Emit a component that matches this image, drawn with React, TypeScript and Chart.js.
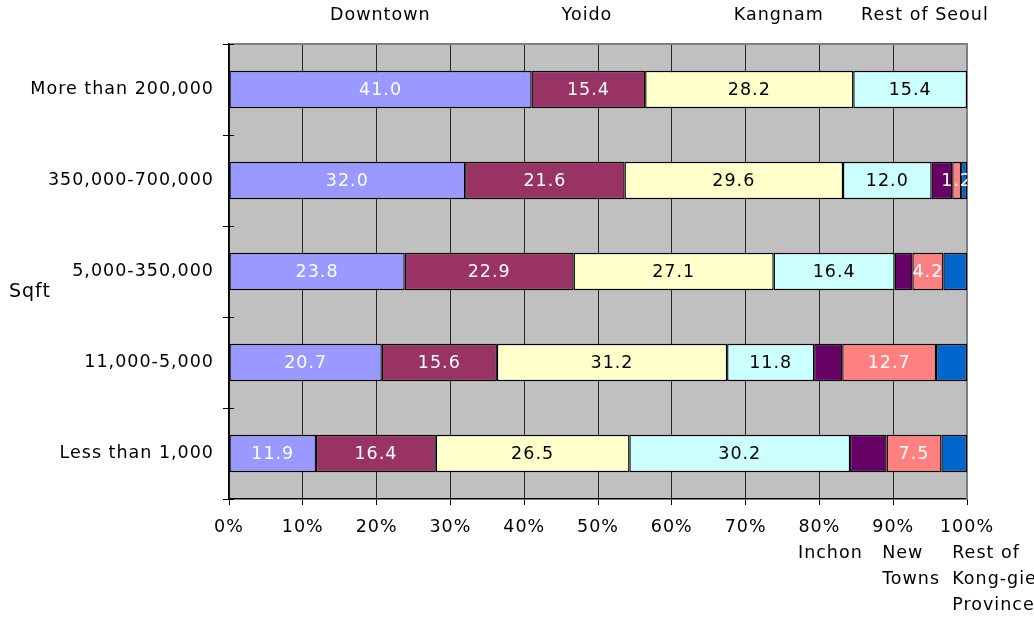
import { useEffect, useRef } from "react";
import { Chart, registerables } from "chart.js";

Chart.register(...registerables);

// Office size bands (rows, top to bottom)
const sizeBands = [
  "More than 200,000",
  "350,000-700,000",
  "5,000-350,000",
  "11,000-5,000",
  "Less than 1,000",
];

// Share of space by location, per size band
const downtown = [41.0, 32.0, 23.8, 20.7, 11.9];
const yoido = [15.4, 21.6, 22.9, 15.6, 16.4];
const kangnam = [28.2, 29.6, 27.1, 31.2, 26.5];
const restOfSeoul = [15.4, 12.0, 16.4, 11.8, 30.2];
const inchon = [0, 2.8, 2.4, 3.8, 5.0];
const newTowns = [0, 1.2, 4.2, 12.7, 7.5];
const restOfKonggie = [0, 0.8, 3.2, 4.2, 3.5];

const percentTicks = [0, 10, 20, 30, 40, 50, 60, 70, 80, 90, 100];

const FONT = "DejaVu Sans";
const FONT_SIZE = 17.5;

type Series = {
  name: string[];
  values: number[];
  color: string;
  labelColor: string | null;
  // where the series name sits: above or below the plot, anchored on the % axis
  namePos: { side: "top" | "bottom"; at: number };
};

const series: Series[] = [
  { name: ["Downtown"], values: downtown, color: "#9999FF", labelColor: "#FFFFFF", namePos: { side: "top", at: 20.5 } },
  { name: ["Yoido"], values: yoido, color: "#993366", labelColor: "#FFFFFF", namePos: { side: "top", at: 48.5 } },
  { name: ["Kangnam"], values: kangnam, color: "#FFFFCC", labelColor: "#000000", namePos: { side: "top", at: 74.5 } },
  { name: ["Rest of Seoul"], values: restOfSeoul, color: "#CCFFFF", labelColor: "#000000", namePos: { side: "top", at: 94.3 } },
  { name: ["Inchon"], values: inchon, color: "#660066", labelColor: null, namePos: { side: "bottom", at: 77.1 } },
  { name: ["New", "Towns"], values: newTowns, color: "#FF8080", labelColor: "#FFFFFF", namePos: { side: "bottom", at: 88.5 } },
  { name: ["Rest of", "Kong-gie", "Province"], values: restOfKonggie, color: "#0066CC", labelColor: null, namePos: { side: "bottom", at: 98.0 } },
];

// 100% stacking: each band's shares are scaled to its own total
const bandTotals = sizeBands.map((_, i) => series.reduce((s, d) => s + d.values[i], 0));

const textStyle = (ctx: CanvasRenderingContext2D) => {
  (ctx as any).letterSpacing = "1px";
};

const decorPlugin = {
  id: "decor",
  beforeUpdate(chart: any) {
    textStyle(chart.ctx);
  },
  beforeDraw(chart: any) {
    const { ctx, chartArea } = chart;
    textStyle(ctx);
    ctx.save();
    ctx.fillStyle = "#FFFFFF";
    ctx.fillRect(0, 0, chart.width, chart.height);
    ctx.fillStyle = "#C0C0C0";
    ctx.fillRect(chartArea.left, chartArea.top, chartArea.right - chartArea.left, chartArea.bottom - chartArea.top);
    ctx.restore();
  },
  beforeDatasetsDraw(chart: any) {
    const { ctx, chartArea } = chart;
    ctx.save();
    ctx.strokeStyle = "#808080";
    ctx.lineWidth = 2;
    ctx.beginPath();
    ctx.moveTo(chartArea.left, chartArea.top);
    ctx.lineTo(chartArea.right, chartArea.top);
    ctx.lineTo(chartArea.right, chartArea.bottom);
    ctx.stroke();
    ctx.restore();
  },
  afterDatasetsDraw(chart: any) {
    const { ctx, chartArea } = chart;
    ctx.save();
    ctx.beginPath();
    ctx.rect(chartArea.left, chartArea.top, chartArea.right - chartArea.left, chartArea.bottom - chartArea.top);
    ctx.clip();
    ctx.font = `${FONT_SIZE}px "${FONT}"`;
    ctx.textAlign = "center";
    ctx.textBaseline = "middle";
    series.forEach((s, di) => {
      if (!s.labelColor) return;
      const meta = chart.getDatasetMeta(di);
      meta.data.forEach((el: any, i: number) => {
        const v = s.values[i];
        if (!v) return;
        ctx.fillStyle = s.labelColor;
        ctx.fillText(v.toFixed(1), (el.x + el.base) / 2, el.y + 1);
      });
    });
    ctx.restore();
  },
  afterDraw(chart: any) {
    const { ctx, chartArea, scales } = chart;
    const x = scales.x;
    const y = scales.y;
    ctx.save();
    // category boundary ticks crossing the vertical axis
    ctx.strokeStyle = "#000000";
    ctx.lineWidth = 1;
    for (let i = 0; i <= sizeBands.length; i++) {
      const py = Math.round(y.getPixelForValue(i - 0.5)) + 0.5;
      ctx.beginPath();
      ctx.moveTo(chartArea.left - 6, py);
      ctx.lineTo(chartArea.left + 5, py);
      ctx.stroke();
    }
    // series names
    ctx.fillStyle = "#000000";
    ctx.font = `${FONT_SIZE}px "${FONT}"`;
    ctx.textBaseline = "middle";
    series.forEach((s) => {
      const px = x.getPixelForValue(s.namePos.at);
      if (s.namePos.side === "top") {
        ctx.textAlign = "center";
        ctx.fillText(s.name[0], px, chartArea.top - 29);
      } else {
        ctx.textAlign = "left";
        s.name.forEach((line, li) => {
          ctx.fillText(line, px, chartArea.bottom + 54 + li * 26);
        });
      }
    });
    // axis title
    ctx.font = `19px "${FONT}"`;
    ctx.textAlign = "left";
    ctx.fillText("Sqft", 9, (chartArea.top + chartArea.bottom) / 2 + 21);
    ctx.restore();
  },
};

export default function App() {
  const canvasRef = useRef<HTMLCanvasElement | null>(null);

  useEffect(() => {
    const canvas = canvasRef.current;
    if (!canvas) return;
    const chart = new Chart(canvas, {
      type: "bar",
      data: {
        labels: sizeBands,
        datasets: series.map((s) => ({
          label: s.name.join(" "),
          data: s.values.map((v, i) => (v / bandTotals[i]) * 100),
          backgroundColor: s.color,
          borderColor: "#000000",
          borderWidth: 1.3,
          borderSkipped: false,
          barPercentage: 0.41,
          categoryPercentage: 1,
        })),
      },
      options: {
        indexAxis: "y",
        animation: false,
        responsive: false,
        devicePixelRatio: 1,
        layout: { padding: { top: 44, right: 67, left: 0, bottom: 0 } },
        font: { family: FONT, size: FONT_SIZE },
        plugins: {
          legend: { display: false },
          tooltip: { enabled: false },
          title: { display: false },
        },
        scales: {
          x: {
            type: "linear",
            stacked: true,
            min: 0,
            max: 100,
            afterBuildTicks: (scale: any) => {
              scale.ticks = percentTicks.map((v) => ({ value: v }));
            },
            afterFit: (scale: any) => {
              scale.height = 119;
            },
            ticks: {
              color: "#000000",
              font: { family: FONT, size: FONT_SIZE },
              padding: 12,
              maxRotation: 0,
              autoSkip: false,
              callback: (v: any) => `${v}%`,
            },
            grid: {
              color: "#262626",
              lineWidth: 1,
              tickLength: 6,
              tickColor: "#000000",
            },
            border: { display: true, color: "#000000", width: 1.5 },
          },
          y: {
            type: "category",
            stacked: true,
            offset: true,
            afterFit: (scale: any) => {
              scale.width = 229;
            },
            ticks: {
              color: "#000000",
              font: { family: FONT, size: FONT_SIZE },
              padding: 15,
            },
            grid: { display: false, drawTicks: false },
            border: { display: true, color: "#000000", width: 1.5 },
          },
        },
      },
      plugins: [decorPlugin],
    } as any);
    return () => chart.destroy();
  }, []);

  return (
    <div style={{ position: "fixed", left: 0, top: 0, width: 1034, height: 618, background: "#FFFFFF" }}>
      <canvas ref={canvasRef} width={1034} height={618} style={{ display: "block", width: 1034, height: 618 }} />
    </div>
  );
}
